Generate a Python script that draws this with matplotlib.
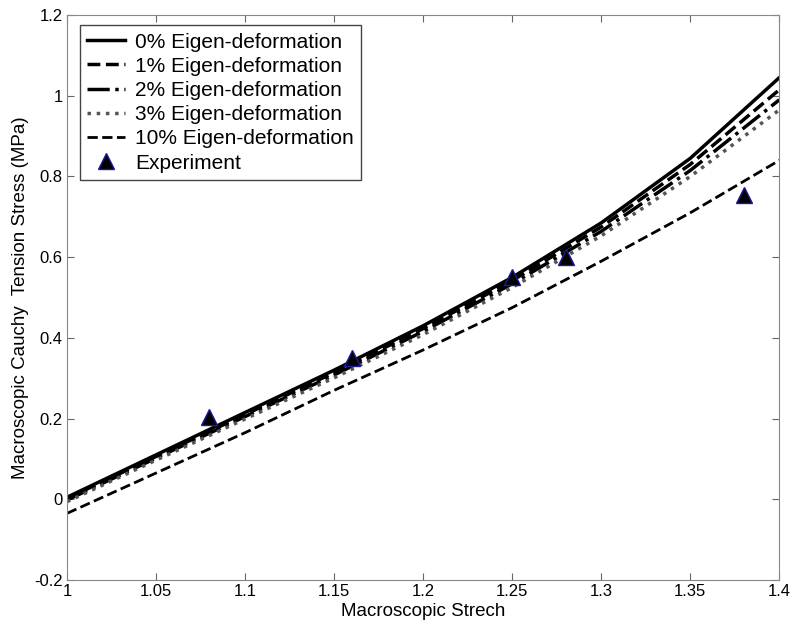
"""
Macroscopic Cauchy tension stress vs stretch for several eigen-deformations.
"""
import matplotlib
matplotlib.use("Agg")
import matplotlib.pyplot as plt

plt.rcParams["font.family"] = ["Liberation Sans", "DejaVu Sans"]

stretch = [1.0, 1.05, 1.1, 1.15, 1.2, 1.25, 1.3, 1.35, 1.4]
stress_0 = [0.005, 0.11, 0.215, 0.32, 0.43, 0.55, 0.685, 0.845, 1.045]
stress_1 = [0.002, 0.106, 0.21, 0.314, 0.423, 0.542, 0.675, 0.83, 1.015]
stress_2 = [-0.002, 0.102, 0.205, 0.308, 0.416, 0.534, 0.664, 0.815, 0.99]
stress_3 = [-0.006, 0.097, 0.199, 0.301, 0.408, 0.525, 0.653, 0.8, 0.965]
stress_10 = [-0.035, 0.065, 0.165, 0.27, 0.37, 0.475, 0.59, 0.71, 0.84]

exp_stretch = [1.08, 1.16, 1.25, 1.28, 1.38]
exp_stress = [0.205, 0.35, 0.55, 0.6, 0.755]

fig = plt.figure(figsize=(7.95, 6.29), dpi=100)
ax = fig.add_axes([0.0843, 0.078, 0.896, 0.898])

ax.plot(stretch, stress_0, "-", color="black", lw=2.5, label="0% Eigen-deformation")
ax.plot(stretch, stress_1, "--", color="black", lw=2.5, label="1% Eigen-deformation")
ax.plot(stretch, stress_2, "-.", color="black", lw=2.5, label="2% Eigen-deformation")
ax.plot(stretch, stress_3, ":", color="#555555", lw=2.5, label="3% Eigen-deformation")
ax.plot(stretch, stress_10, "--", color="black", lw=2, label="10% Eigen-deformation")
ax.plot(exp_stretch, exp_stress, "^", color="black", mec="#1a1aa0", ms=11,
        mew=1, ls="none", label="Experiment")

ax.set_xlim(1, 1.4)
ax.set_ylim(-0.2, 1.2)
ax.set_xticks([1, 1.05, 1.1, 1.15, 1.2, 1.25, 1.3, 1.35, 1.4])
ax.set_xticklabels(["1", "1.05", "1.1", "1.15", "1.2", "1.25", "1.3", "1.35", "1.4"])
ax.set_yticks([-0.2, 0, 0.2, 0.4, 0.6, 0.8, 1, 1.2])
ax.set_yticklabels(["-0.2", "0", "0.2", "0.4", "0.6", "0.8", "1", "1.2"])
ax.tick_params(direction="in", top=True, right=True, labelsize=12, length=5,
               color="#666666", pad=3)
for s in ax.spines.values():
  s.set_color("#888888")

ax.set_xlabel("Macroscopic Strech", fontsize=13.5, labelpad=3)
ax.set_ylabel("Macroscopic Cauchy  Tension Stress (MPa)", fontsize=13.5,
              labelpad=4)

leg = ax.legend(loc="upper left", bbox_to_anchor=(0.018, 0.982), fontsize=15,
                fancybox=False, framealpha=1, edgecolor="#444444",
                handlelength=1.8, handletextpad=0.5, borderaxespad=0,
                labelspacing=0.25, borderpad=0.35)
leg.get_frame().set_linewidth(1)

fig.savefig("out.png", dpi=100)
